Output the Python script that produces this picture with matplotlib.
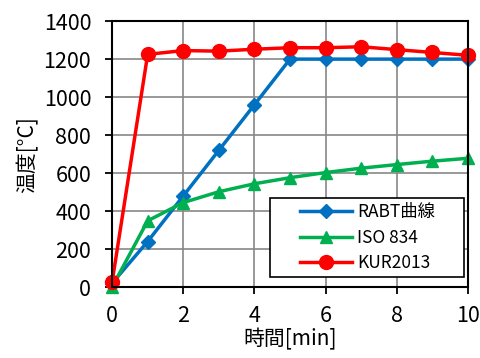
import numpy as np
import matplotlib.pyplot as plt
from matplotlib.patches import Rectangle

plt.rcParams['font.family'] = ['Noto Sans CJK JP', 'DejaVu Sans']

t = [0, 1, 2, 3, 4, 5, 6, 7, 8, 9, 10]
rabt = [20, 240, 480, 720, 960, 1200, 1200, 1200, 1200, 1200, 1200]
iso834 = [0, 349, 445, 502, 544, 576, 603, 626, 645, 663, 678]
kur2013 = [25, 1225, 1245, 1242, 1252, 1260, 1260, 1265, 1250, 1235, 1220]

fig = plt.figure(figsize=(4.81, 3.58), dpi=100)
ax = fig.add_axes([0.233, 0.198, 0.74, 0.743])

ax.plot(t, rabt, color='#0070C0', marker='D', markersize=7, lw=2.5, label='RABT曲線')
ax.plot(t, iso834, color='#00B050', marker='^', markersize=9, lw=2.5, label='ISO 834')
ax.plot(t, kur2013, color='#FF0000', marker='o', markersize=10, lw=2.5, label='KUR2013')

ax.set_xlim(0, 10)
ax.set_ylim(0, 1400)
ax.set_xticks(range(0, 11, 2))
ax.set_yticks(range(0, 1401, 200))
ax.grid(True, color='#888888', lw=1.2)
ax.set_axisbelow(True)
for s in ax.spines.values():
    s.set_linewidth(1.5)
    s.set_color('black')
ax.tick_params(labelsize=15.5, length=5, width=1.3, direction='out')
ax.tick_params(axis='y', pad=10)
ax.tick_params(axis='x', pad=8)
ax.set_xlabel('時間[min]', fontsize=15, labelpad=1)
ax.set_ylabel('温度[°C]', fontsize=15, labelpad=4)

# legend frame drawn as a box, legend entries placed inside
box = Rectangle((0.444, 0.038), 0.545, 0.297, transform=ax.transAxes,
                facecolor='white', edgecolor='black', lw=1.2, zorder=5)
ax.add_patch(box)
leg = ax.legend(loc='center left', bbox_to_anchor=(0.528, 0.186), fontsize=12.5,
                frameon=False, borderpad=0, borderaxespad=0,
                handlelength=3.0, handletextpad=0.3, labelspacing=0.45)
leg.set_zorder(6)

for ln in ax.lines:
    ln.set_clip_on(False)

fig.savefig('out.png', dpi=100)
